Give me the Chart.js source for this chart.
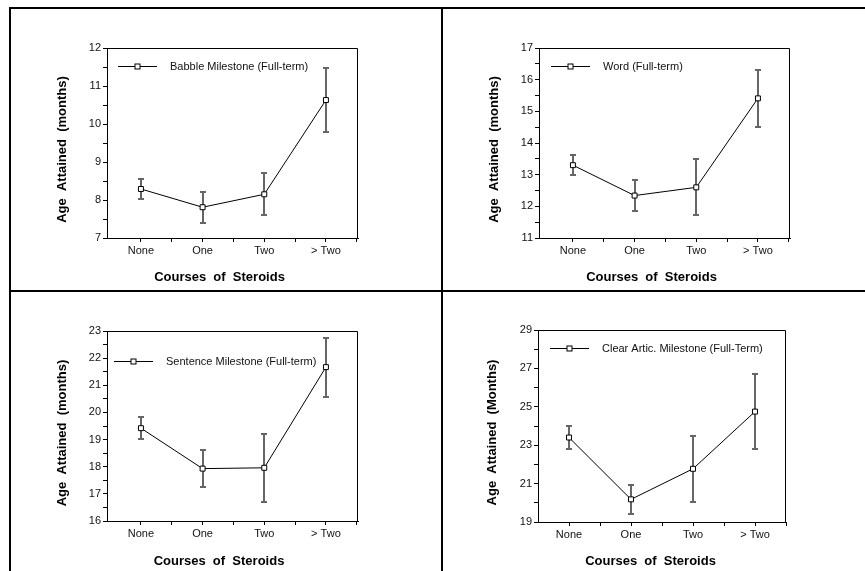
<!DOCTYPE html>
<html><head><meta charset="utf-8">
<script src="https://cdn.jsdelivr.net/npm/chart.js@4.4.1/dist/chart.umd.min.js"></script>
<style>
html,body{margin:0;padding:0;background:#fff;width:865px;height:571px;overflow:hidden;}
#page{position:relative;width:865px;height:571px;}
.rule{position:absolute;background:#000;}
canvas{position:absolute;}
</style></head><body>
<div id="page">
<div class="rule" style="left:9px;top:7px;width:856px;height:2px"></div>
<div class="rule" style="left:9px;top:7px;width:2px;height:564px"></div>
<div class="rule" style="left:441px;top:7px;width:2px;height:564px"></div>
<div class="rule" style="left:9px;top:290px;width:856px;height:2px"></div>
<canvas id="c1"></canvas>
<canvas id="c2"></canvas>
<canvas id="c3"></canvas>
<canvas id="c4"></canvas>
</div>
<script>
// ---- data ----
const categories = ['None', 'One', 'Two', '> Two'];
const xTitle = 'Courses  of  Steroids';

const babbleName = 'Babble Milestone (Full-term)';
const babbleMeans = [8.29, 7.81, 8.15, 10.63];
const babbleErrors = [0.26, 0.41, 0.55, 0.85];
const babbleYTicks = [7, 8, 9, 10, 11, 12];

const wordName = 'Word (Full-term)';
const wordMeans = [13.30, 12.34, 12.60, 15.41];
const wordErrors = [0.31, 0.49, 0.88, 0.91];
const wordYTicks = [11, 12, 13, 14, 15, 16, 17];

const sentenceName = 'Sentence Milestone (Full-term)';
const sentenceMeans = [19.42, 17.93, 17.96, 21.67];
const sentenceErrors = [0.40, 0.68, 1.25, 1.09];
const sentenceYTicks = [16, 17, 18, 19, 20, 21, 22, 23];

const articName = 'Clear Artic. Milestone (Full-Term)';
const articMeans = [23.40, 20.18, 21.77, 24.75];
const articErrors = [0.58, 0.75, 1.73, 1.97];
const articYTicks = [19, 21, 23, 25, 27, 29];

const yTitleLower = 'Age  Attained  (months)';
const yTitleUpper = 'Age  Attained  (Months)';

// ---- layout (page coordinates) ----
const FONT = '"Liberation Sans", Arial, sans-serif';
const TITLE_FONT = 'bold 13px "Liberation Sans", Arial, sans-serif';

const panels = [
  {id:'c1', name:babbleName, means:babbleMeans, errors:babbleErrors, yTicks:babbleYTicks, minor:0.5, yTitle:yTitleLower,
   box:{x:12,y:10,w:428,h:279,L:107,R:358,T:48,B:238,yTitleX:62,xTitleY:277,yTitleDy:6.5,xTitleDx:-13,xMin:0.45,xMax:4.52,legDx:11,legDy:18}},
  {id:'c2', name:wordName, means:wordMeans, errors:wordErrors, yTicks:wordYTicks, minor:0.5, yTitle:yTitleLower,
   box:{x:444,y:10,w:421,h:279,L:539,R:790,T:48,B:238,yTitleX:494,xTitleY:277,yTitleDy:6.5,xTitleDx:-13,xMin:0.45,xMax:4.52,legDx:12,legDy:18}},
  {id:'c3', name:sentenceName, means:sentenceMeans, errors:sentenceErrors, yTicks:sentenceYTicks, minor:0.5, yTitle:yTitleLower,
   box:{x:12,y:293,w:428,h:278,L:107,R:358,T:331,B:521,yTitleX:62,xTitleY:561,yTitleDy:7,xTitleDx:-13.5,xMin:0.45,xMax:4.52,legDx:7,legDy:30}},
  {id:'c4', name:articName, means:articMeans, errors:articErrors, yTicks:articYTicks, minor:1, yTitle:yTitleUpper,
   box:{x:444,y:293,w:421,h:278,L:538,R:786,T:330,B:522,yTitleX:492,xTitleY:561,yTitleDy:6.5,xTitleDx:-11.5,xMin:0.5,xMax:4.5,legDx:12,legDy:18}}
];

const xTickValues = [1, 1.5, 2, 2.5, 3, 3.5, 4, 4.5];

const decorPlugin = {
  id: 'decor',
  beforeDatasetsDraw(chart) {
    const p = chart.config.options.plugins.decor;
    const ctx = chart.ctx, a = chart.chartArea;
    const xs = chart.scales.x, ys = chart.scales.y;
    ctx.save();
    // frame top and right
    ctx.strokeStyle = '#000'; ctx.lineWidth = 1;
    ctx.beginPath();
    const t = Math.round(a.top) + 0.5, r = Math.round(a.right) - 0.5;
    ctx.moveTo(a.left, t); ctx.lineTo(r, t); ctx.lineTo(r, a.bottom);
    ctx.stroke();
    // error bars
    ctx.strokeStyle = '#666'; ctx.lineWidth = 2;
    p.means.forEach((m, i) => {
      const x = Math.round(xs.getPixelForValue(i + 1));
      const yt = Math.round(ys.getPixelForValue(m + p.errors[i]));
      const yb = Math.round(ys.getPixelForValue(m - p.errors[i]));
      ctx.beginPath();
      ctx.moveTo(x, yt); ctx.lineTo(x, yb);
      ctx.moveTo(x - 3, yt); ctx.lineTo(x + 3, yt);
      ctx.moveTo(x - 3, yb); ctx.lineTo(x + 3, yb);
      ctx.stroke();
    });
    ctx.restore();
  },
  afterDatasetsDraw(chart) {
    const p = chart.config.options.plugins.decor;
    const ctx = chart.ctx, a = chart.chartArea;
    ctx.save();
    // legend
    const y = Math.round(a.top + p.legDy) + 0.5;
    const x0 = Math.round(a.left + p.legDx);
    ctx.strokeStyle = '#000'; ctx.lineWidth = 1;
    ctx.beginPath(); ctx.moveTo(x0, y); ctx.lineTo(x0 + 39, y); ctx.stroke();
    const mx = x0 + 19.5;
    ctx.fillStyle = '#fff';
    ctx.fillRect(mx - 2.5, y - 2.5, 5, 5);
    ctx.strokeRect(mx - 2.5, y - 2.5, 5, 5);
    ctx.fillStyle = '#111';
    ctx.font = '11px ' + FONT;
    ctx.textBaseline = 'middle'; ctx.textAlign = 'left';
    ctx.fillText(p.name, x0 + 52, y);
    // axis titles
    ctx.fillStyle = '#000';
    ctx.font = TITLE_FONT;
    ctx.textAlign = 'center'; ctx.textBaseline = 'middle';
    ctx.fillText(p.xTitle, (a.left + a.right) / 2 + p.xTitleDx, p.xTitleY);
    ctx.translate(p.yTitleX, (a.top + a.bottom) / 2 + p.yTitleDy);
    ctx.rotate(-Math.PI / 2);
    ctx.fillText(p.yTitle, 0, 0);
    ctx.restore();
  }
};

panels.forEach(p => {
  const b = p.box;
  const canvas = document.getElementById(p.id);
  canvas.width = b.w; canvas.height = b.h;
  canvas.style.left = b.x + 'px'; canvas.style.top = b.y + 'px';
  const padLeft = 20;
  const yWidth = b.L - b.x - padLeft;
  const padTop = b.T - b.y;
  const padRight = b.x + b.w - b.R;
  const padBottom = 4;
  const xHeight = b.h - padBottom - (b.B - b.y);
  const yMin = p.yTicks[0], yMax = p.yTicks[p.yTicks.length - 1];

  new Chart(canvas, {
    type: 'line',
    data: {
      datasets: [{
        label: p.name,
        data: p.means.map((v, i) => ({x: i + 1, y: v})),
        borderColor: '#000', borderWidth: 1,
        pointStyle: 'rect', pointRadius: 3.5, pointBorderWidth: 1,
        pointBackgroundColor: '#fff', pointBorderColor: '#000',
        tension: 0, fill: false
      }]
    },
    options: {
      responsive: false, animation: false, devicePixelRatio: 1,
      layout: {padding: {left: padLeft, right: padRight, top: padTop, bottom: padBottom}},
      plugins: {
        legend: {display: false}, tooltip: {enabled: false},
        decor: {means: p.means, errors: p.errors, name: p.name, legDx: b.legDx, legDy: b.legDy,
                xTitle: xTitle, yTitle: p.yTitle, xTitleY: b.xTitleY - b.y, xTitleDx: b.xTitleDx,
                yTitleX: b.yTitleX - b.x, yTitleDy: b.yTitleDy}
      },
      scales: {
        x: {
          type: 'linear', min: b.xMin, max: b.xMax,
          afterBuildTicks: s => { s.ticks = xTickValues.map(v => ({value: v})); },
          afterFit: s => { s.height = xHeight; },
          grid: {drawOnChartArea: false, drawTicks: true, tickLength: 4, color: '#000', lineWidth: 1},
          border: {display: true, color: '#000', width: 1},
          ticks: {
            autoSkip: false, maxRotation: 0, padding: 2, color: '#111',
            font: {family: FONT, size: 11},
            callback: v => Number.isInteger(v) ? categories[v - 1] : ''
          },
          title: {display: false}
        },
        y: {
          type: 'linear', min: yMin, max: yMax,
          afterBuildTicks: s => {
            const arr = [];
            for (let v = yMin; v <= yMax + 1e-9; v += p.minor) arr.push({value: Math.round(v * 100) / 100});
            s.ticks = arr;
          },
          afterFit: s => { s.width = yWidth; },
          grid: {drawOnChartArea: false, drawTicks: true, tickLength: 4, color: '#000', lineWidth: 1},
          border: {display: true, color: '#000', width: 1},
          ticks: {
            autoSkip: false, padding: 2, color: '#111',
            font: {family: FONT, size: 11},
            callback: v => p.yTicks.includes(v) ? String(v) : ''
          },
          title: {display: false}
        }
      }
    },
    plugins: [decorPlugin]
  });
});
</script>
</body></html>
